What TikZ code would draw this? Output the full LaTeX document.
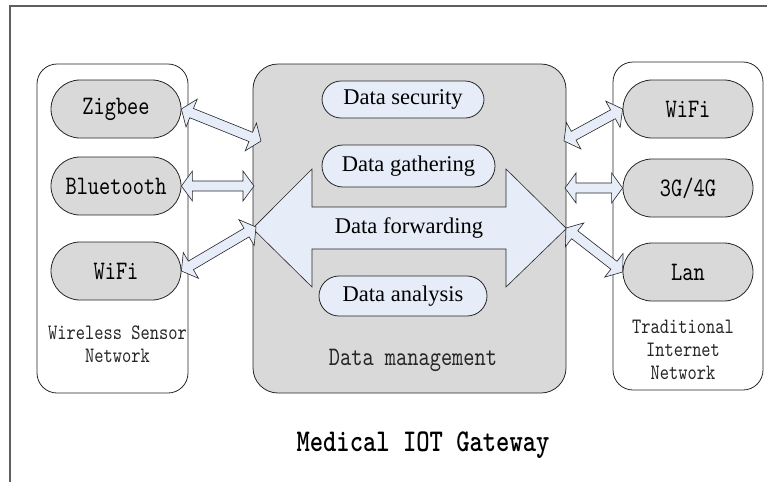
\documentclass[tikz,border=0pt]{standalone}
\usepackage{fontspec}
\setmainfont{Liberation Serif}
\newfontfamily\simmono{lmmono10-regular.otf}[FakeStretch=0.8, BoldFont=lmmonolt10-bold.otf]
\usetikzlibrary{calc}
\definecolor{boxgray}{RGB}{217,217,217}
\definecolor{lblue}{RGB}{230,237,248}
\definecolor{framegray}{RGB}{95,95,95}
\tikzset{
  frame/.style={draw=framegray, line width=1.3pt},
  group/.style={draw=black!85, line width=0.8pt, rounded corners=20pt, inner sep=0pt},
  dev/.style={draw=black!85, line width=0.8pt, fill=boxgray, rounded corners=29pt,
    minimum width=130pt, minimum height=58pt, inner sep=0pt,
    font=\simmono\fontsize{26.7}{28}\selectfont},
  func/.style={draw=black!85, line width=0.8pt, fill=lblue, rounded corners=19pt,
    inner sep=0pt, font=\fontsize{22.5}{25}\selectfont},
  barrow/.style={draw=black!85, line width=0.6pt, fill=lblue, line join=miter},
  note/.style={align=center, text=black!85, font=\simmono\fontsize{22}{23}\selectfont, inner sep=0pt},
}
\newcommand\blockarr[2]{%
  \coordinate (bhA) at ($(#1)!11pt!(#2)$);
  \coordinate (bhB) at ($(#2)!11pt!(#1)$);
  \draw[barrow] (#1) -- ($(bhA)!15pt!90:(#2)$) -- ($(bhA)!5pt!90:(#2)$)
    -- ($(bhB)!5pt!-90:(#1)$) -- ($(bhB)!15pt!-90:(#1)$) -- (#2)
    -- ($(bhB)!15pt!90:(#1)$) -- ($(bhB)!5pt!90:(#1)$)
    -- ($(bhA)!5pt!-90:(#2)$) -- ($(bhA)!15pt!-90:(#2)$) -- cycle;}
\begin{document}
\begin{tikzpicture}[x=1pt,y=-1pt]
\useasboundingbox (0,0) rectangle (767,482);
\draw[frame] (767,6) -- (10,6) -- (10,482);

% containers
\node[group, minimum width=151pt, minimum height=329pt] (wsn) at (112.5,228.5) {};
\node[group, minimum width=150pt, minimum height=328pt] (tin) at (688,226) {};
\node[group, fill=boxgray, rounded corners=25pt, minimum width=313pt, minimum height=329pt] (dm) at (409.5,228.5) {};

% left devices
\node[dev] (zig) at (116,109) {Zigbee};
\node[dev] (bt) at (116,186) {Bluetooth};
\node[dev] (wl) at (116,271) {WiFi};
\node[note] (wsnl) at (117.5,344.5) {Wireless Sensor\\Network};

% right devices
\node[dev] (wr) at (688,109) {WiFi};
\node[dev] (g34) at (688,188) {3G/4G};
\node[dev] (lan) at (688,272) {Lan};
\node[note] (tinl) at (683,350) {Traditional\\Internet\\Network};

% big forwarding arrow
\draw[barrow] (dm.west) -- (312,169) -- (312,207) -- (506,207) -- (506,169) -- (dm.east)
  -- (506,287) -- (506,249) -- (312,249) -- (312,287) -- cycle;
\node[font=\fontsize{22.5}{25}\selectfont, inner sep=0pt] (fwd) at (409,228) {Data forwarding};

% functions
\node[func, minimum width=162pt, minimum height=37pt] (sec) at (403,99.5) {Data security};
\node[func, minimum width=173pt, minimum height=42pt, rounded corners=21pt] (gat) at (408.5,166) {Data gathering};
\node[func, minimum width=168pt, minimum height=40pt, rounded corners=20pt] (ana) at (403,296) {Data analysis};
\node[note, font=\simmono\fontsize{26.7}{28}\selectfont] (dml) at (413,360) {Data management};

% connector coordinates on the gateway box
\coordinate (c1) at (261,141);
\coordinate (c2) at (254,186);
\coordinate (c3) at (256,227);
\coordinate (c4) at (564,141);
\coordinate (c5) at (565,188);
\coordinate (c6) at (566,228);

\blockarr{zig.east}{c1}
\blockarr{bt.east}{c2}
\blockarr{wl.east}{c3}
\blockarr{c4}{wr.west}
\blockarr{c5}{g34.west}
\blockarr{c6}{lan.west}

\node[font=\simmono\bfseries\fontsize{31.7}{33}\selectfont, inner sep=0pt] (title) at (423,445) {Medical IOT Gateway};
\end{tikzpicture}
\end{document}
